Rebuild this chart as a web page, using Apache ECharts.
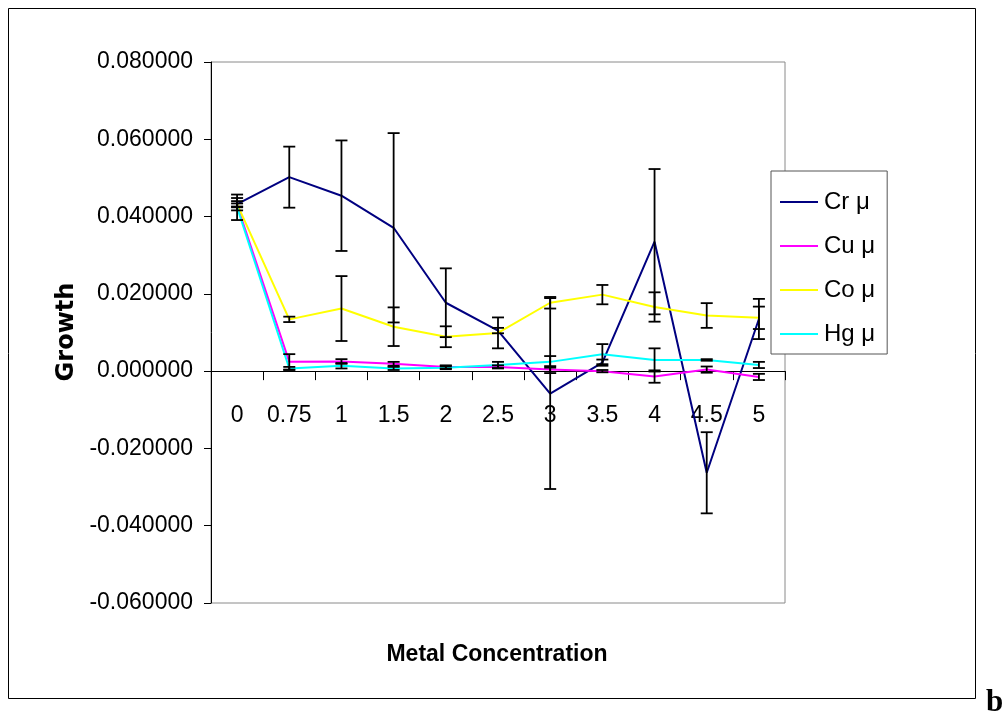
<!DOCTYPE html>
<html>
<head>
<meta charset="utf-8">
<script src="https://cdn.jsdelivr.net/npm/echarts@6/dist/echarts.min.js"></script>
<style>
  html, body { margin: 0; padding: 0; background: #ffffff; }
  #chart { width: 1007px; height: 717px; }
</style>
</head>
<body>
<div id="chart"></div>
<script>
// Metal concentrations (x categories)
var categories = ['0', '0.75', '1', '1.5', '2', '2.5', '3', '3.5', '4', '4.5', '5'];

// Growth means and their error (± half-widths)
var crMean = [0.0432, 0.0502, 0.0454, 0.0371, 0.0177, 0.0105, -0.0058, 0.0022, 0.0335, -0.0263, 0.0135];
var crErr  = [0.0016, 0.0079, 0.0143, 0.0245, 0.0089, 0.0007, 0.0247, 0.0008, 0.0188, 0.0105, 0.0052];

var cuMean = [0.0430, 0.0024, 0.0025, 0.0019, 0.0011, 0.0011, 0.0004, 0.0000, -0.0014, 0.0004, -0.0015];
var cuErr  = [0.0004, 0.0020, 0.0006, 0.0005, 0.0004, 0.0004, 0.0009, 0.0003, 0.0016, 0.0008, 0.0008];

var coMean = [0.0432, 0.0134, 0.0162, 0.0115, 0.0089, 0.0099, 0.0177, 0.0198, 0.0166, 0.0144, 0.0138];
var coErr  = [0.0008, 0.0007, 0.0084, 0.0050, 0.0027, 0.0040, 0.0015, 0.0025, 0.0038, 0.0032, 0.0029];

var hgMean = [0.0424, 0.0007, 0.0014, 0.0007, 0.0009, 0.0016, 0.0024, 0.0044, 0.0029, 0.0029, 0.0016];
var hgErr  = [0.0033, 0.0004, 0.0007, 0.0004, 0.0004, 0.0008, 0.0015, 0.0026, 0.0030, 0.0002, 0.0008];

var seriesNames = ['Cr \u03bc', 'Cu \u03bc', 'Co \u03bc', 'Hg \u03bc'];
var seriesColors = ['#000080', '#ff00ff', '#ffff00', '#00ffff'];

var means = [crMean, cuMean, coMean, hgMean];
var errs = [crErr, cuErr, coErr, hgErr];

// Value range of the growth axis
var yMin = -0.06, yMax = 0.08, yStep = 0.02;

// Grid geometry; the category axis is shifted up so it sits on growth = 0
var gridTop = 62, gridHeight = 541;
var zeroShift = gridHeight * (0 - yMin) / (yMax - yMin);

function errorData(m, e) {
  return m.map(function (v, i) { return [i, v - e[i], v + e[i]]; });
}

function renderErrorBar(params, api) {
  var idx = api.value(0);
  var lo = api.coord([idx, api.value(1)]);
  var hi = api.coord([idx, api.value(2)]);
  var w = 6;
  var st = { stroke: '#000000', lineWidth: 1.8 };
  return {
    type: 'group',
    children: [
      { type: 'line', shape: { x1: lo[0], y1: lo[1], x2: hi[0], y2: hi[1] }, style: st },
      { type: 'line', shape: { x1: lo[0] - w, y1: lo[1], x2: lo[0] + w, y2: lo[1] }, style: st },
      { type: 'line', shape: { x1: hi[0] - w, y1: hi[1], x2: hi[0] + w, y2: hi[1] }, style: st }
    ]
  };
}

var series = [];
means.forEach(function (m, k) {
  series.push({
    name: seriesNames[k],
    type: 'line',
    data: m,
    symbol: 'none',
    lineStyle: { color: seriesColors[k], width: 2 },
    itemStyle: { color: seriesColors[k] },
    z: 2,
    animation: false
  });
});
means.forEach(function (m, k) {
  series.push({
    name: seriesNames[k] + ' err',
    type: 'custom',
    renderItem: renderErrorBar,
    data: errorData(m, errs[k]),
    z: 3,
    silent: true,
    animation: false
  });
});

var chart = echarts.init(document.getElementById('chart'), null, { renderer: 'canvas' });
chart.setOption({
  backgroundColor: '#ffffff',
  animation: false,
  grid: {
    left: 211, top: gridTop, width: 574, height: gridHeight,
    show: true, borderColor: '#8a8a8a', borderWidth: 1, backgroundColor: 'transparent'
  },
  legend: {
    data: seriesNames,
    orient: 'vertical',
    left: 771, top: 171,
    padding: [19, 12, 8, 9],
    itemGap: 20,
    itemWidth: 38,
    itemHeight: 2,
    icon: 'rect',
    backgroundColor: '#ffffff',
    borderColor: '#555555',
    borderWidth: 1,
    textStyle: { fontFamily: 'Liberation Sans', fontSize: 24, color: '#000000', padding: [0, 0, 0, 1] }
  },
  xAxis: {
    type: 'category',
    data: categories,
    position: 'bottom',
    offset: -zeroShift,
    axisLine: { onZero: false, lineStyle: { color: '#000000', width: 1 } },
    axisTick: { show: true, length: 9, lineStyle: { color: '#000000' } },
    axisLabel: { interval: 0, margin: 33, fontFamily: 'Liberation Sans', fontSize: 23, color: '#000000' },
    splitLine: { show: false }
  },
  yAxis: {
    type: 'value',
    min: yMin, max: yMax, interval: yStep,
    axisLine: { show: true, lineStyle: { color: '#000000', width: 1 } },
    axisTick: { show: true, length: 7, lineStyle: { color: '#000000' } },
    axisLabel: {
      margin: 18, fontFamily: 'Liberation Sans', fontSize: 23, color: '#000000',
      formatter: function (v) { return v.toFixed(6); }
    },
    splitLine: { show: false }
  },
  graphic: [
    {
      type: 'rect', x: 8.5, y: 8.5, silent: true,
      shape: { x: 0, y: 0, width: 967, height: 690 },
      style: { fill: 'none', stroke: '#000000', lineWidth: 1 }
    },
    {
      type: 'text', silent: true,
      x: 497, y: 655,
      style: { text: 'Metal Concentration', font: 'bold 23px "Liberation Sans"', fill: '#000000', align: 'center', verticalAlign: 'middle' }
    },
    {
      type: 'text', silent: true,
      x: 67, y: 332, rotation: Math.PI / 2,
      style: { text: 'Growth', font: 'bold 24px "DejaVu Sans"', fill: '#000000', align: 'center', verticalAlign: 'middle' }
    },
    {
      type: 'text', silent: true,
      x: 986, y: 687,
      style: { text: 'b', font: 'bold 31px "Liberation Serif"', fill: '#000000' }
    }
  ],
  series: series
});
</script>
</body>
</html>
